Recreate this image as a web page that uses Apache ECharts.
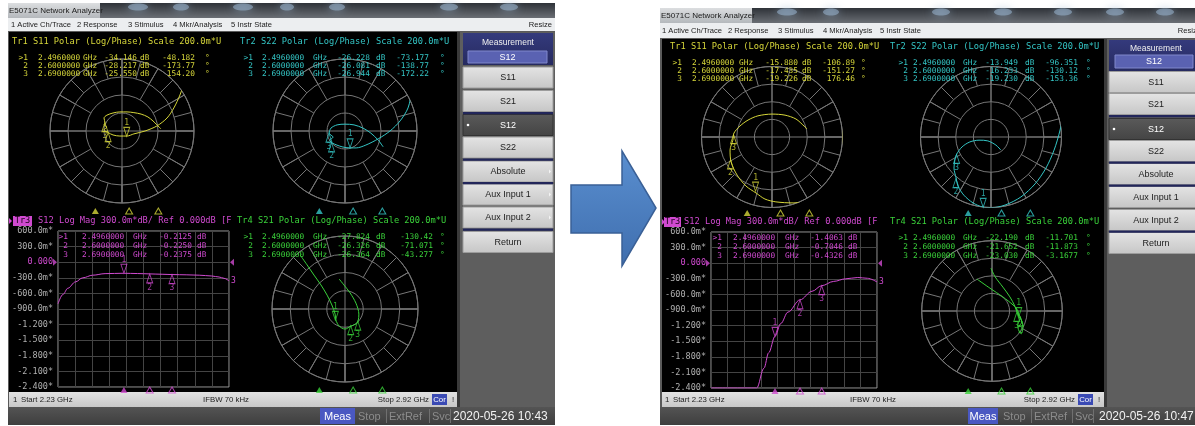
<!DOCTYPE html>
<html>
<head>
<meta charset="utf-8">
<script src="https://cdn.jsdelivr.net/npm/echarts@6/dist/echarts.min.js"></script>
<style>
html,body{margin:0;padding:0;background:#ffffff;}
#chart{width:1195px;height:426px;}
</style>
</head>
<body>
<div id="chart"></div>
<script>
// ---------- sweep / marker settings ----------
const sweepStartGHz = 2.23;
const sweepStopGHz = 2.92;
const markerGHz = [2.496, 2.6, 2.69];

// Log Mag axis: 300 m dB/div, ref 0 dB
const magTickLabels = ['600.0m*', '300.0m*', '0.000', '-300.0m*', '-600.0m*', '-900.0m*', '-1.200*', '-1.500*', '-1.800*', '-2.100*', '-2.400*'];
const magMin = -2.4, magMax = 0.6, magStep = 0.3;
// Polar full scale (outer circle), U
const polarFullScale = 0.2;

// ---------- 10:43 sweep: marker readouts ----------
const s11A_dB = [-34.146, -28.217, -25.550];
const s11A_deg = [-48.182, -173.77, 154.20];
const s22A_dB = [-26.228, -26.081, -26.944];
const s22A_deg = [-73.177, -138.77, -172.22];
const s12A_dB = [-0.2125, -0.2250, -0.2375];
const s21A_dB = [-27.824, -26.326, -26.364];
const s21A_deg = [-130.42, -71.071, -43.277];

// 10:43 traces: polar traces as [real, imag] in U, log mag as GHz / dB
const s11A_trace = [[0.197,0.275],[0.192,0.225],[0.186,0.183],[0.175,0.142],[0.161,0.100],[0.144,0.064],[0.125,0.036],[0.097,0.014],[0.064,0.000],[0.033,-0.008],[0.014,-0.014],[-0.006,-0.014],[-0.025,-0.011],[-0.039,-0.004],[-0.050,0.003],[-0.042,0.011],[-0.050,0.017],[-0.047,0.022],[-0.050,0.036],[-0.042,0.044],[-0.025,0.050],[-0.006,0.053],[0.014,0.053],[0.033,0.051],[0.053,0.047],[0.072,0.039],[0.086,0.028],[0.097,0.017],[0.108,0.006]];
const s22A_trace = [[0.192,0.272],[0.192,0.189],[0.186,0.114],[0.175,0.064],[0.153,0.028],[0.125,0.000],[0.092,-0.022],[0.058,-0.039],[0.031,-0.047],[0.014,-0.047],[-0.008,-0.044],[-0.036,-0.033],[-0.042,-0.025],[-0.033,-0.017],[-0.044,-0.006],[-0.039,0.008],[-0.022,0.017],[0.000,0.019],[0.025,0.017],[0.050,0.008],[0.072,-0.006],[0.092,-0.025],[0.106,-0.044]];
const s21A_trace = [[-0.123,0.148],[-0.104,0.121],[-0.085,0.093],[-0.066,0.066],[-0.049,0.038],[-0.036,0.011],[-0.027,-0.014],[-0.025,-0.030],[-0.016,-0.047],[0.000,-0.055],[0.016,-0.047],[0.030,-0.041],[0.036,-0.033],[0.038,-0.014],[0.030,0.016],[0.014,0.044],[-0.003,0.066],[-0.016,0.082]];
const s12A_GHz = [2.23, 2.25, 2.27, 2.30, 2.33, 2.37, 2.42, 2.496, 2.55, 2.60, 2.65, 2.69, 2.75, 2.80, 2.85, 2.88, 2.90, 2.92];
const s12A_trace_dB = [-0.80, -0.62, -0.50, -0.38, -0.30, -0.25, -0.22, -0.2125, -0.218, -0.225, -0.232, -0.2375, -0.243, -0.25, -0.265, -0.285, -0.31, -0.36];

// ---------- 10:47 sweep: marker readouts ----------
const s11B_dB = [-15.880, -17.435, -19.226];
const s11B_deg = [-106.89, -151.27, 176.46];
const s22B_dB = [-13.949, -16.233, -19.230];
const s22B_deg = [-96.351, -130.12, -153.36];
const s12B_dB = [-1.4063, -0.7046, -0.4326];
const s21B_dB = [-22.190, -21.652, -23.030];
const s21B_deg = [-11.701, -11.873, -3.1677];

// 10:47 traces
const s11B_trace = [[0.201,0.156],[0.201,0.077],[0.201,-0.009],[0.201,-0.094],[0.201,-0.150],[0.187,-0.162],[0.150,-0.173],[0.108,-0.182],[0.060,-0.187],[0.011,-0.184],[-0.020,-0.176],[-0.045,-0.159],[-0.074,-0.139],[-0.099,-0.108],[-0.116,-0.071],[-0.119,-0.037],[-0.111,-0.009],[-0.108,0.011],[-0.091,0.031],[-0.068,0.048],[-0.040,0.060],[0.000,0.065],[0.037,0.062],[0.068,0.051],[0.091,0.031],[0.099,0.023]];
const s22B_trace = [[0.207,0.213],[0.213,0.148],[0.207,0.082],[0.196,0.020],[0.179,-0.037],[0.156,-0.088],[0.125,-0.133],[0.085,-0.170],[0.040,-0.193],[0.000,-0.201],[-0.023,-0.199],[-0.051,-0.187],[-0.077,-0.165],[-0.094,-0.139],[-0.099,-0.116],[-0.105,-0.088],[-0.102,-0.062],[-0.097,-0.048],[-0.082,-0.028],[-0.060,-0.014],[-0.034,-0.009],[-0.009,-0.011],[0.014,-0.023],[0.028,-0.037]];
const s21B_trace = [[-0.043,0.091],[-0.006,0.065],[0.031,0.040],[0.060,0.017],[0.074,0.000],[0.077,-0.016],[0.085,-0.031],[0.074,-0.048],[0.083,-0.065],[0.088,-0.046],[0.080,-0.017],[0.071,-0.003],[0.065,0.014],[0.051,0.040],[0.031,0.068],[0.009,0.097],[-0.003,0.122]];
const s12B_GHz = [2.23, 2.30, 2.38, 2.42, 2.45, 2.47, 2.496, 2.52, 2.55, 2.60, 2.65, 2.69, 2.74, 2.79, 2.84, 2.88, 2.92];
const s12B_trace_dB = [-2.4, -2.4, -2.4, -2.4, -2.02, -1.72, -1.4063, -1.16, -0.94, -0.7046, -0.54, -0.4326, -0.35, -0.30, -0.275, -0.29, -0.36];

// UI captions
const menuBarItems = ['1 Active Ch/Trace', '2 Response', '3 Stimulus', '4 Mkr/Analysis', '5 Instr State'];
const softkeys = ['S11', 'S21', 'S12', 'S22', 'Absolute', 'Aux Input 1', 'Aux Input 2', 'Return'];
const clockA = '2020-05-26 10:43';
const clockB = '2020-05-26 10:47';

// ---------- styling ----------
const MONO = '"DejaVu Sans Mono", monospace';
const SANS = '"Liberation Sans", Arial, sans-serif';
const YEL = '#d6d63a', CYA = '#34c6c6', MAG = '#d04ad0', GRN = '#3ad23a';
const POLG = '#767676';
const RD = 7.8; // readout font size

const LG = (c0, c1) => new echarts.graphic.LinearGradient(0, 0, 0, 1, [{offset: 0, color: c0}, {offset: 1, color: c1}]);

function T(x, y, s, fill, size, o) {
  o = o || {};
  const al = o.align || 'left';
  return {type: 'text', x: x, y: y, z: o.z == null ? 60 : o.z, silent: true,
    style: {text: s, fill: fill, font: size + 'px ' + (o.font || MONO),
      textAlign: al, align: al, textVerticalAlign: 'middle', verticalAlign: 'middle'}};
}
function R(x0, y0, x1, y1, fill, z, extra) {
  return {type: 'rect', z: z == null ? -20 : z, silent: true,
    shape: {x: x0, y: y0, width: x1 - x0, height: y1 - y0},
    style: Object.assign({fill: fill}, extra || {})};
}
function P(points, fill, z, extra) {
  return {type: 'polygon', z: z == null ? 55 : z, silent: true, shape: {points: points},
    style: Object.assign({fill: fill}, extra || {})};
}

const toPolar = p => [Math.hypot(p[0], p[1]), Math.atan2(p[1], p[0]) * 180 / Math.PI];
const markerPolar = (dB, deg) => [Math.pow(10, dB / 20), deg];

// marker glyphs: active marker points down onto the trace, others point up
const MK_DOWN = 'path://M0 0 L10 0 L5 15 Z';
const MK_UP = 'path://M5 0 L10 15 L0 15 Z';
function markerItems(values, color) {
  return values.map((v, i) => ({
    value: v, name: String(i + 1),
    symbol: i === 0 ? MK_DOWN : MK_UP,
    symbolOffset: [0, i === 0 ? -4.5 : 4.5],
    label: {show: true, position: i === 0 ? 'top' : 'bottom', distance: 0, formatter: '{b}',
      color: color, fontFamily: MONO, fontSize: 8}
  }));
}

// ---------- chart pieces ----------
function polarPanel(o, c, trace, mDb, mDeg, color) {
  const [cx, cy, rad] = c;
  const pi = o.polar.length;
  o.polar.push({center: [cx, cy], radius: [0, rad]});
  o.angleAxis.push({polarIndex: pi, type: 'value', min: 0, max: 360, interval: 90, startAngle: 0, clockwise: false,
    axisLine: {show: true, lineStyle: {color: POLG, width: 1}}, axisTick: {show: false}, axisLabel: {show: false},
    splitLine: {show: true, lineStyle: {color: POLG, width: 1}}});
  o.radiusAxis.push({polarIndex: pi, type: 'value', min: 0, max: polarFullScale, interval: polarFullScale / 4,
    axisLine: {show: false}, axisTick: {show: false}, axisLabel: {show: false},
    splitLine: {show: true, lineStyle: {color: POLG, width: 1}}});
  // radial spokes in the outer bands
  [[0.5, 30], [0.75, 15]].forEach(([f, step]) => {
    const k = o.polar.length;
    o.polar.push({center: [cx, cy], radius: [rad * f, rad]});
    o.angleAxis.push({polarIndex: k, type: 'value', min: 0, max: 360, interval: step, startAngle: 0, clockwise: false,
      axisLine: {show: false}, axisTick: {show: false}, axisLabel: {show: false},
      splitLine: {show: true, lineStyle: {color: POLG, width: 1}}});
    o.radiusAxis.push({polarIndex: k, type: 'value', min: 0, max: 1, axisLine: {show: false},
      axisTick: {show: false}, axisLabel: {show: false}, splitLine: {show: false}});
  });
  o.series.push({type: 'line', coordinateSystem: 'polar', polarIndex: pi, data: trace.map(toPolar),
    showSymbol: false, clip: false, smooth: 0.3, silent: true, z: 5,
    lineStyle: {color: color, width: 1}});
  o.series.push({type: 'scatter', coordinateSystem: 'polar', polarIndex: pi, clip: false, silent: true, z: 6,
    symbolSize: [6, 9], itemStyle: {color: 'rgba(0,0,0,0)', borderColor: color, borderWidth: 1},
    data: markerItems(mDb.map((d, i) => markerPolar(d, mDeg[i])), color)});
}

function magPanel(o, rect, ghz, dB, mDb, color) {
  const [x0, y0, x1, y1] = rect;
  const gi = o.grid.length;
  o.grid.push({left: x0, top: y0, width: x1 - x0, height: y1 - y0, show: true,
    borderColor: '#9a9a9a', borderWidth: 1, backgroundColor: 'rgba(0,0,0,0)'});
  const xd = o.xAxis.length;
  o.xAxis.push({gridIndex: gi, type: 'value', min: sweepStartGHz, max: sweepStopGHz, show: false});
  o.xAxis.push({gridIndex: gi, type: 'value', min: 0, max: 10, interval: 1,
    axisLine: {show: false}, axisTick: {show: false}, axisLabel: {show: false},
    splitLine: {show: true, lineStyle: {color: '#444444', width: 1}}});
  const yi = o.yAxis.length;
  o.yAxis.push({gridIndex: gi, type: 'value', min: magMin, max: magMax, interval: magStep,
    axisLine: {show: false}, axisTick: {show: false},
    splitLine: {show: true, lineStyle: {color: '#444444', width: 1}},
    axisLabel: {show: true, margin: 5, showMinLabel: true, showMaxLabel: true,
      fontFamily: MONO, fontSize: 8.5,
      formatter: v => magTickLabels[Math.round((magMax - v) / magStep)],
      color: v => Math.abs(v) < 1e-6 ? color : '#b0b0b0'}});
  o.series.push({type: 'line', xAxisIndex: xd, yAxisIndex: yi, data: ghz.map((f, i) => [f, dB[i]]),
    showSymbol: false, smooth: 0.35, smoothMonotone: 'x', silent: true, z: 5,
    lineStyle: {color: color, width: 1},
    endLabel: {show: true, formatter: '3', color: color, fontFamily: MONO, fontSize: 8, distance: 2}});
  o.series.push({type: 'scatter', xAxisIndex: xd, yAxisIndex: yi, clip: false, silent: true, z: 6,
    symbolSize: [6, 9], itemStyle: {color: 'rgba(0,0,0,0)', borderColor: color, borderWidth: 1},
    data: markerItems(mDb.map((d, i) => [markerGHz[i], d]), color)});
  // reference-level arrows at both ends of the 0 dB line
  o.series.push({type: 'scatter', xAxisIndex: xd, yAxisIndex: yi, clip: false, silent: true, z: 6,
    symbolSize: [4, 7], itemStyle: {color: color},
    data: [{value: [sweepStartGHz, 0], symbol: 'path://M0 0 L8 5 L0 10 Z', symbolOffset: [-3, 0]},
           {value: [sweepStopGHz, 0], symbol: 'path://M8 0 L0 5 L8 10 Z', symbolOffset: [3, 0]}]});
}

// marker position indicators under each trace area
function freqStrip(o, x0, x1, y, color) {
  const gi = o.grid.length;
  o.grid.push({left: x0, top: y - 4, width: x1 - x0, height: 8, show: false});
  const xi = o.xAxis.length, yi = o.yAxis.length;
  o.xAxis.push({gridIndex: gi, type: 'value', min: sweepStartGHz, max: sweepStopGHz, show: false});
  o.yAxis.push({gridIndex: gi, type: 'value', min: 0, max: 1, show: false});
  o.series.push({type: 'scatter', xAxisIndex: xi, yAxisIndex: yi, clip: false, silent: true, z: 6,
    symbol: 'triangle', symbolSize: [7, 6],
    data: markerGHz.map((f, i) => ({value: [f, 0.5],
      itemStyle: i === 0 ? {color: color} : {color: 'rgba(0,0,0,0)', borderColor: color, borderWidth: 1}}))});
}

function readout(g, F, rows, dB, deg, color, dbFmt) {
  for (let i = 0; i < 3; i++) {
    const y = rows[i];
    g.push(T(F.mk, y, i === 0 ? '>1' : String(i + 1), color, RD, {align: 'right'}));
    g.push(T(F.f, y, markerGHz[i].toFixed(7), color, RD));
    g.push(T(F.ghz, y, 'GHz', color, RD));
    g.push(T(F.v1, y, dbFmt(dB[i]), color, RD, {align: 'right'}));
    g.push(T(F.db, y, 'dB', color, RD));
    if (deg) {
      g.push(T(F.v2, y, deg[i].toPrecision(5), color, RD, {align: 'right'}));
      g.push(T(F.deg, y, '°', color, RD));
    }
  }
}

function buildScreen(o, L, D) {
  const g = o.graphic;
  const [wx0, wy0, wx1, wy1] = L.win;
  // window body
  g.push(R(wx0, wy0, wx1, wy1, '#5a5a5a', -30));
  // title strip
  g.push(R(wx0, L.title[0], wx1, L.title[1], LG('#2e3238', '#6a6e74'), -29));
  L.blobs.forEach(b => g.push({type: 'ellipse', z: -28, silent: true,
    shape: {cx: b[0], cy: b[1], rx: b[2], ry: 3.5},
    style: {fill: '#9ab6d2', opacity: 0.55, shadowBlur: 8, shadowColor: '#9ab6d2'}}));
  g.push(R(wx0, L.title[0], L.titleBoxX1, L.title[1], LG('#dcdee0', '#b4b8bc'), -27));
  g.push(T(wx0 + 1, L.titleTextY, 'E5071C Network Analyzer', '#202020', 8, {font: SANS}));
  // menu bar
  g.push(R(wx0, L.menu[0], wx1, L.menu[1], '#eceef0', -27));
  menuBarItems.forEach((s, i) => g.push(T(L.menuX[i], L.menuTextY, s, '#202020', 7.6, {font: SANS})));
  g.push(T(L.resizeX, L.menuTextY, 'Resize', '#202020', 7.6, {font: SANS, align: 'right'}));
  // display
  g.push(R(L.disp[0], L.disp[1], L.disp[2], L.disp[3], '#000000', -26));

  // soft key panel
  const [bx0, bx1] = L.btnX, bxc = (bx0 + bx1) / 2;
  g.push(R(L.panelX[0], L.disp[1], L.panelX[1], L.status[1], '#5e5e5e', -26));
  g.push(R(L.panelX[0], L.disp[1], L.panelX[0] + 3, L.status[1], '#3a3a3a', -25));
  g.push(R(bx0, L.measHdr[0], bx1, L.measHdr[1], LG('#343a7c', '#262a60'), -24));
  g.push(T(bxc, L.measTextY, 'Measurement', '#f0f0f0', 8.5, {font: SANS, align: 'center'}));
  g.push(R(L.measBox[0], L.measBox[1], L.measBox[2], L.measBox[3], '#5a62b2', -23, {stroke: '#8088cc', lineWidth: 1}));
  g.push(T((L.measBox[0] + L.measBox[2]) / 2, (L.measBox[1] + L.measBox[3]) / 2 + 0.5, 'S12', '#ffffff', 9, {font: SANS, align: 'center'}));
  softkeys.forEach((s, i) => {
    const yc = L.btnY[i], sel = s === 'S12';
    g.push(R(bx0, yc - 10.5, bx1, yc + 10.5, sel ? LG('#5a5a5a', '#444444') : LG('#e4e4e4', '#c6c6c6'), -24,
      {stroke: sel ? '#333333' : '#9c9c9c', lineWidth: 1}));
    g.push(T(bxc, yc + 0.5, s, sel ? '#ffffff' : '#1c1c1c', 9, {font: SANS, align: 'center'}));
    if (sel) g.push({type: 'circle', z: 60, silent: true, shape: {cx: bx0 + 5, cy: yc, r: 1.3}, style: {fill: '#ffffff'}});
    if (s === 'Absolute' || s.indexOf('Aux') === 0) g.push(P([[bx1 - 4, yc - 2], [bx1 - 2, yc], [bx1 - 4, yc + 2]], '#f4f4f4', 60));
  });
  L.seps.forEach(y => g.push(R(bx0, y - 1, bx1, y + 1.2, '#22265a', -22)));

  // status bar
  const sy = (L.status[0] + L.status[1]) / 2;
  g.push(R(L.disp[0], L.status[0], L.disp[2], L.status[1], LG('#e2e2e2', '#c8c8c8'), -25));
  g.push(T(L.statusX.one, sy, '1', '#202020', 7.8, {font: SANS}));
  g.push(T(L.statusX.start, sy, 'Start ' + sweepStartGHz.toFixed(2) + ' GHz', '#202020', 7.8, {font: SANS}));
  g.push(T(L.statusX.ifbw, sy, 'IFBW 70 kHz', '#202020', 7.8, {font: SANS}));
  g.push(T(L.statusX.stopR, sy, 'Stop ' + sweepStopGHz.toFixed(2) + ' GHz', '#202020', 7.8, {font: SANS, align: 'right'}));
  g.push(R(L.statusX.cor[0], L.status[0] + 2, L.statusX.cor[1], L.status[1] - 2, '#3a4ab4', -20));
  g.push(T((L.statusX.cor[0] + L.statusX.cor[1]) / 2, sy, 'Cor', '#ffffff', 7.8, {font: SANS, align: 'center'}));
  g.push(T(L.statusX.bang, sy, '!', '#202020', 7.8, {font: SANS}));

  // bottom bar
  const by = (L.bottom[0] + L.bottom[1]) / 2 + 0.5;
  g.push(R(wx0, L.bottom[0], wx1, L.bottom[1], LG('#545454', '#3e3e3e'), -25));
  g.push(R(L.bottomX.meas[0], L.bottom[0] + 1, L.bottomX.meas[1], L.bottom[1] - 1, '#4a58c2', -20));
  g.push(T((L.bottomX.meas[0] + L.bottomX.meas[1]) / 2, by, 'Meas', '#ffffff', 11, {font: SANS, align: 'center'}));
  g.push(T(L.bottomX.stop, by, 'Stop', '#8c8c8c', 11, {font: SANS}));
  g.push(T(L.bottomX.ext, by, 'ExtRef', '#8c8c8c', 11, {font: SANS}));
  g.push(T(L.bottomX.svc, by, 'Svc', '#8c8c8c', 11, {font: SANS}));
  L.bottomX.seps.forEach(x => g.push(R(x, L.bottom[0] + 2, x + 1, L.bottom[1] - 2, '#707070', -20)));
  g.push(T(L.bottomX.date, by, D.clock, '#f2f2f2', 12, {font: SANS}));

  // trace headers
  const H = L.hdr;
  g.push(T(H.tl[0], H.tl[1], 'Tr1 S11 Polar (Log/Phase) Scale 200.0m*U', YEL, 8.7));
  g.push(T(H.tr[0], H.tr[1], 'Tr2 S22 Polar (Log/Phase) Scale 200.0m*U', CYA, 8.7));
  g.push(P([[L.disp[0], H.bl[3] - 3], [L.disp[0] + 3, H.bl[3]], [L.disp[0], H.bl[3] + 3]], MAG, 60));
  g.push(R(H.bl[0], H.bl[3] - 5, H.bl[1], H.bl[3] + 5, MAG, 58));
  g.push(T((H.bl[0] + H.bl[1]) / 2, H.bl[3], 'Tr3', '#1a001a', 8.7, {align: 'center'}));
  g.push(T(H.bl[2], H.bl[3], 'S12 Log Mag 300.0m*dB/ Ref 0.000dB [F', MAG, 8.7));
  g.push(T(H.br[0], H.br[1], 'Tr4 S21 Polar (Log/Phase) Scale 200.0m*U', GRN, 8.7));

  // marker readouts
  const db3 = v => v.toFixed(3), db4 = v => v.toFixed(4);
  readout(g, L.fTL, L.rowsTop, D.s11dB, D.s11deg, YEL, db3);
  readout(g, L.fTR, L.rowsTop, D.s22dB, D.s22deg, CYA, db3);
  readout(g, L.fBL, L.rowsBot, D.s12dB, null, MAG, db4);
  readout(g, L.fBR, L.rowsBot, D.s21dB, D.s21deg, GRN, db3);

  // traces
  polarPanel(o, L.pTL, D.s11trace, D.s11dB, D.s11deg, YEL);
  polarPanel(o, L.pTR, D.s22trace, D.s22dB, D.s22deg, CYA);
  polarPanel(o, L.pBR, D.s21trace, D.s21dB, D.s21deg, GRN);
  magPanel(o, L.mag, D.s12GHz, D.s12trace, D.s12dB, MAG);

  freqStrip(o, L.panelsX[0], L.panelsX[1], L.stripTop, YEL);
  freqStrip(o, L.panelsX[1], L.panelsX[2], L.stripTop, CYA);
  freqStrip(o, L.mag[0], L.mag[2], L.stripBot, MAG);
  freqStrip(o, L.panelsX[1], L.panelsX[2], L.stripBot, GRN);
}

// ---------- screen layouts ----------
const layoutA = {
  win: [8, 3, 555, 425], title: [3, 18], titleBoxX1: 100, titleTextY: 11,
  blobs: [[138, 7, 10], [181, 7, 8], [243, 7, 10], [287, 7, 7], [337, 7, 8], [449, 7, 9], [509, 7, 9]],
  menu: [18, 31], menuTextY: 25, menuX: [11, 77, 128, 173, 231], resizeX: 552,
  disp: [9, 32, 457, 392],
  panelX: [457, 555], btnX: [463, 553],
  measHdr: [33, 65], measTextY: 43, measBox: [468, 51, 547, 63],
  btnY: [77.5, 101, 125, 147.5, 171.5, 194.5, 217.5, 242], seps: [113, 159.5, 183, 229.5],
  status: [392, 407], bottom: [407, 425],
  statusX: {one: 13, start: 21, ifbw: 203, stopR: 429, cor: [432, 447], bang: 452},
  bottomX: {meas: [320, 355], stop: 358, ext: 389, svc: 432, seps: [386, 429, 450], date: 453},
  hdr: {tl: [12, 42], tr: [240, 42], bl: [13, 32, 38, 221], br: [237, 221]},
  rowsTop: [58, 66, 74], rowsBot: [237, 246, 255],
  fTL: {mk: 28, f: 38, ghz: 83, v1: 137, db: 140, v2: 195, deg: 205},
  fTR: {mk: 253, f: 262, ghz: 313, v1: 370, db: 376, v2: 429, deg: 440},
  fBL: {mk: 68, f: 82, ghz: 133, v1: 192, db: 197},
  fBR: {mk: 253, f: 262, ghz: 313, v1: 370, db: 376, v2: 433, deg: 440},
  pTL: [122, 131, 72], pTR: [345, 131, 72], pBR: [345, 309, 73],
  mag: [58, 231, 229, 387],
  stripTop: 211, stripBot: 390,
  panelsX: [9, 233, 457]
};
const layoutB = {
  win: [660, 8, 1203, 425], title: [8, 23], titleBoxX1: 752, titleTextY: 16,
  blobs: [[787, 12, 10], [831, 12, 8], [941, 12, 9], [1003, 12, 9], [1063, 12, 9], [1115, 12, 9], [1165, 12, 9]],
  menu: [23, 38], menuTextY: 31, menuX: [662, 728, 778, 823, 880], resizeX: 1201,
  disp: [662, 39, 1104, 392],
  panelX: [1104, 1203], btnX: [1109, 1203],
  measHdr: [40, 71], measTextY: 49, measBox: [1115, 55, 1193, 68],
  btnY: [82, 104, 129, 151, 174, 197, 220, 243], seps: [116, 162.5, 185.5, 231.5],
  status: [392, 407], bottom: [407, 425],
  statusX: {one: 665, start: 673, ifbw: 850, stopR: 1075, cor: [1078, 1093], bang: 1098},
  bottomX: {meas: [968, 998], stop: 1003, ext: 1034, svc: 1075, seps: [1031, 1072, 1093], date: 1099},
  hdr: {tl: [670, 47], tr: [890, 47], bl: [664, 681, 684, 222], br: [890, 222]},
  rowsTop: [63, 71, 79], rowsBot: [238, 247, 256],
  fTL: {mk: 682, f: 692, ghz: 739, v1: 798, db: 802, v2: 855, deg: 861},
  fTR: {mk: 908, f: 913, ghz: 963, v1: 1018, db: 1025, v2: 1078, deg: 1086},
  fBL: {mk: 722, f: 733, ghz: 785, v1: 843, db: 848},
  fBR: {mk: 908, f: 913, ghz: 963, v1: 1018, db: 1025, v2: 1078, deg: 1086},
  pTL: [772, 137, 70.5], pTR: [991, 137, 70.5], pBR: [992, 311, 70.3],
  mag: [711, 232, 877, 388],
  stripTop: 213, stripBot: 391,
  panelsX: [662, 883, 1104]
};

const opt = {grid: [], xAxis: [], yAxis: [], polar: [], radiusAxis: [], angleAxis: [], series: [], graphic: []};

buildScreen(opt, layoutA, {
  clock: clockA,
  s11dB: s11A_dB, s11deg: s11A_deg, s11trace: s11A_trace,
  s22dB: s22A_dB, s22deg: s22A_deg, s22trace: s22A_trace,
  s21dB: s21A_dB, s21deg: s21A_deg, s21trace: s21A_trace,
  s12dB: s12A_dB, s12GHz: s12A_GHz, s12trace: s12A_trace_dB
});
buildScreen(opt, layoutB, {
  clock: clockB,
  s11dB: s11B_dB, s11deg: s11B_deg, s11trace: s11B_trace,
  s22dB: s22B_dB, s22deg: s22B_deg, s22trace: s22B_trace,
  s21dB: s21B_dB, s21deg: s21B_deg, s21trace: s21B_trace,
  s12dB: s12B_dB, s12GHz: s12B_GHz, s12trace: s12B_trace_dB
});

// block arrow between the two screens
opt.graphic.push({type: 'polygon', z: 10, silent: true,
  shape: {points: [[571, 185], [622, 185], [622, 151], [656, 208], [622, 266], [622, 233], [571, 233]]},
  style: {fill: LG('#5a8fd0', '#3f6eae'), stroke: '#3a6096', lineWidth: 1.5}});

const chart = echarts.init(document.getElementById('chart'), null, {renderer: 'canvas'});
chart.setOption({
  animation: false,
  backgroundColor: '#ffffff',
  grid: opt.grid, xAxis: opt.xAxis, yAxis: opt.yAxis,
  polar: opt.polar, radiusAxis: opt.radiusAxis, angleAxis: opt.angleAxis,
  series: opt.series,
  graphic: {elements: opt.graphic}
});
</script>
</body>
</html>
